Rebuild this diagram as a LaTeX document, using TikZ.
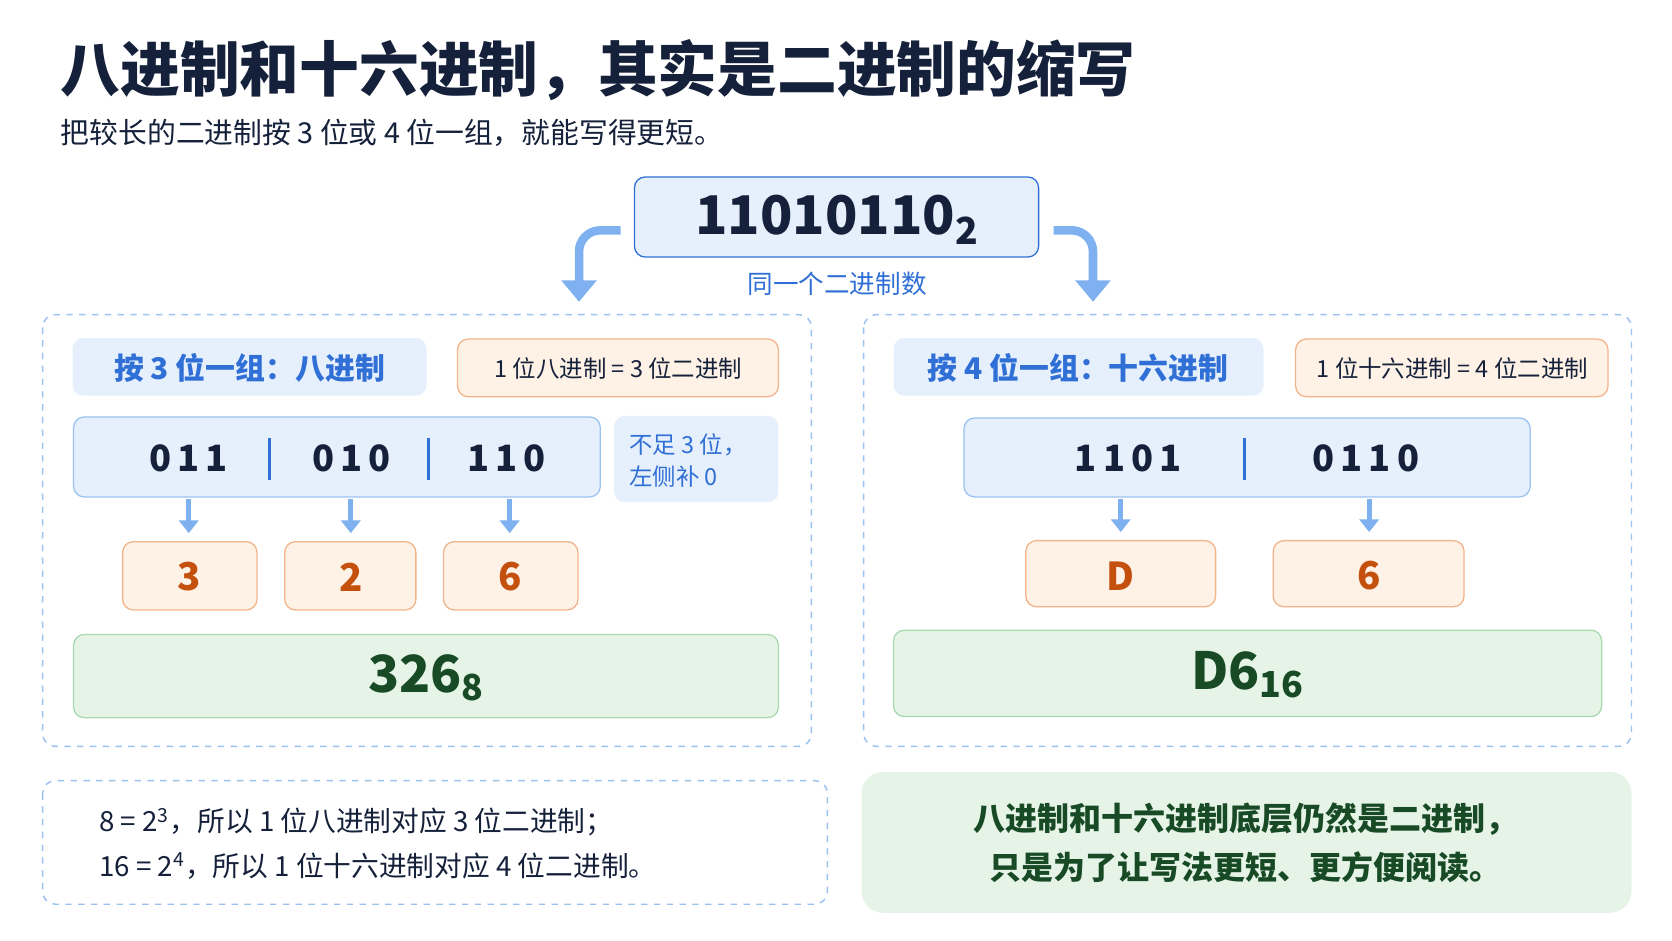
\documentclass[tikz,border=0pt]{standalone}
\usepackage{fontspec}
\setmainfont{Noto Sans CJK SC}
\usetikzlibrary{arrows.meta}
\definecolor{bl}{HTML}{2F6FD6}
\definecolor{blfill}{HTML}{E6F0FD}
\definecolor{blborder}{HTML}{9CC2F2}
\definecolor{orb}{HTML}{F2B48A}
\definecolor{orf}{HTML}{FEF1E6}
\definecolor{ort}{HTML}{C4500E}
\definecolor{grb}{HTML}{A9D8B0}
\definecolor{grf}{HTML}{E6F4E8}
\definecolor{grt}{HTML}{174A25}
\definecolor{navy}{HTML}{15213A}
\definecolor{arr}{HTML}{7FB0F0}
\begin{document}
\begin{tikzpicture}[x=0.5pt,y=-0.5pt,
 box/.style={draw=#1,rounded corners=5pt,line width=0.6pt},
 dbox/.style={draw=blborder,dashed,rounded corners=6pt,line width=0.7pt},
 down/.style={draw=arr,line width=2.2pt,-{Triangle[length=6pt,width=9pt]}},
 big/.style={draw=arr,line width=4pt,-{Triangle[length=10pt,width=16pt]},rounded corners=10pt},
 bin/.style={font=\fontsize{17}{17}\selectfont\bfseries,text=navy},
 dig/.style={font=\fontsize{18}{18}\selectfont\bfseries,text=ort},
 res/.style={font=\fontsize{24}{24}\selectfont\bfseries,text=grt}]
\fill[white] (0,0) rectangle (1568,882);
\useasboundingbox (0,0) rectangle (1568,882);
\node[anchor=west,text=navy,font=\fontsize{28}{28}\selectfont\bfseries] (title) at (50,66) {八进制和十六进制，其实是二进制的缩写};
\node[anchor=west,text=navy,font=\fontsize{13.5}{14}\selectfont] (sub) at (50,125) {把较长的二进制按 3 位或 4 位一组，就能写得更短。};
% top
\filldraw[box=bl,fill=blfill] (595,166) rectangle (974,241);
\node[text=navy,font=\fontsize{25}{25}\selectfont\bfseries] (top) at (785,206) {11010110\textsubscript{2}};
\node[text=bl,font=\fontsize{12}{12}\selectfont] (same) at (785,266) {同一个二进制数};
\coordinate (la) at (582,216); \coordinate (lb) at (543,283);
\coordinate (ra) at (988,216); \coordinate (rb) at (1025,283);
\draw[big] (la) -| (lb);
\draw[big] (ra) -| (rb);
% left panel
\draw[dbox] (40,295) rectangle (761,700);
\fill[blfill,rounded corners=5pt] (68,317) rectangle (400,371);
\node[text=bl,font=\fontsize{14}{14}\selectfont\bfseries] (l1) at (234,345) {按 3 位一组：八进制};
\filldraw[box=orb,fill=orf] (429,318) rectangle (730,372);
\node[text=navy,font=\fontsize{11}{11}\selectfont] (l2) at (580,346) {1 位八进制 = 3 位二进制};
\filldraw[box=blborder,fill=blfill] (69,391) rectangle (563,466);
\node[bin] (b1) at (177,430) {0\,1\,1};
\node[bin] (b2) at (330,430) {0\,1\,0};
\node[bin] (b3) at (475,430) {1\,1\,0};
\draw[bl,line width=1.3pt] (253,411)--(253,450) (402,411)--(402,450);
\fill[blfill,rounded corners=5pt] (576,390) rectangle (730,471);
\node[text=bl,font=\fontsize{11}{15}\selectfont,align=left] (note) at (645,432) {不足 3 位，\\左侧补 0};
\filldraw[box=orb,fill=orf] (115,508) rectangle (241,572);
\filldraw[box=orb,fill=orf] (267,508) rectangle (390,572);
\filldraw[box=orb,fill=orf] (416,508) rectangle (542,572);
\node[dig] (d1) at (177,541) {3};
\node[dig] (d2) at (329,541) {2};
\node[dig] (d3) at (478,541) {6};
\draw[down] (177,468) -- (177,500);
\draw[down] (329,468) -- (329,500);
\draw[down] (478,468) -- (478,500);
\filldraw[box=grb,fill=grf] (69,595) rectangle (730,673);
\node[res] (r1) at (400,636) {326\textsubscript{8}};
% right panel
\draw[dbox] (810,295) rectangle (1530,700);
\fill[blfill,rounded corners=5pt] (838,317) rectangle (1185,371);
\node[text=bl,font=\fontsize{14}{14}\selectfont\bfseries] (r1l) at (1011,345) {按 4 位一组：十六进制};
\filldraw[box=orb,fill=orf] (1215,318) rectangle (1508,372);
\node[text=navy,font=\fontsize{11}{11}\selectfont] (r2l) at (1362,346) {1 位十六进制 = 4 位二进制};
\filldraw[box=blborder,fill=blfill] (904,392) rectangle (1435,466);
\node[bin] (h1) at (1058,430) {1\,1\,0\,1};
\node[bin] (h2) at (1281,430) {0\,1\,1\,0};
\draw[bl,line width=1.3pt] (1167,411)--(1167,450);
\filldraw[box=orb,fill=orf] (962,507) rectangle (1140,569);
\filldraw[box=orb,fill=orf] (1194,507) rectangle (1373,569);
\node[dig] (e1) at (1051,540) {D};
\node[dig] (e2) at (1284,540) {6};
\draw[down] (1051,468) -- (1051,499);
\draw[down] (1284,468) -- (1284,499);
\filldraw[box=grb,fill=grf] (838,591) rectangle (1502,672);
\node[res] (r2) at (1170,633) {D6\textsubscript{16}};
% bottom
\draw[dbox] (40,732) rectangle (776,848);
\node[anchor=west,text=navy,font=\fontsize{13}{21}\selectfont,align=left] (f1) at (86,791) {8 = 2\textsuperscript{3}，所以 1 位八进制对应 3 位二进制；\\16 = 2\textsuperscript{4}，所以 1 位十六进制对应 4 位二进制。};
\fill[grf,rounded corners=10pt] (808,724) rectangle (1530,856);
\node[text=grt,font=\fontsize{15}{23}\selectfont\bfseries,align=center] (f2) at (1168,790) {八进制和十六进制底层仍然是二进制，\\只是为了让写法更短、更方便阅读。};
\end{tikzpicture}
\end{document}
